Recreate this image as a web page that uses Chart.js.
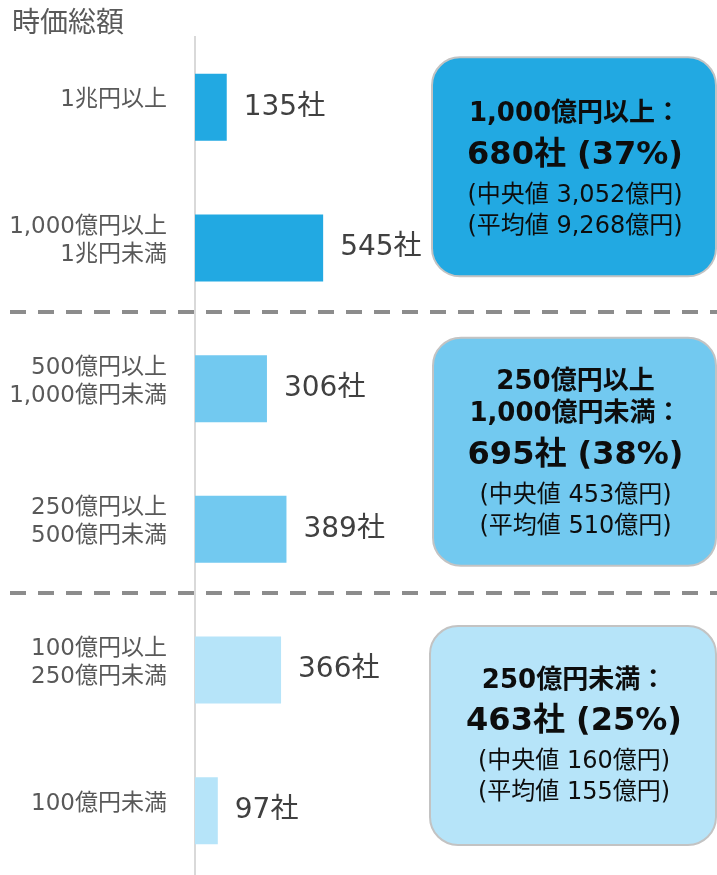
<!DOCTYPE html>
<html>
<head>
<meta charset="utf-8">
<script src="https://cdn.jsdelivr.net/npm/chart.js@4"></script>
<style>
  html, body { margin: 0; padding: 0; background: #fff; overflow: hidden; }
  canvas { display: block; }
</style>
</head>
<body>
<canvas id="myChart" width="717" height="881"></canvas>
<script>
const chartTitle = "時価総額";
const categories = [
  ["1兆円以上"],
  ["1,000億円以上", "1兆円未満"],
  ["500億円以上", "1,000億円未満"],
  ["250億円以上", "500億円未満"],
  ["100億円以上", "250億円未満"],
  ["100億円未満"]
];
const companyCounts = [135, 545, 306, 389, 366, 97];
const countUnit = "社";

// summary boxes, one per group of two bars
const groupHeadings = [
  ["1,000億円以上："],
  ["250億円以上", "1,000億円未満："],
  ["250億円未満："]
];
const groupTotals = [680, 695, 463];
const groupShares = [37, 38, 25];
const groupMedians = ["3,052", "453", "160"];
const groupMeans = ["9,268", "510", "155"];

const FONT = '"DejaVu Sans", "Noto Sans CJK JP", sans-serif';
const colors = ["#22a9e2", "#72c9f0", "#b6e4f9"];
const barColors = [colors[0], colors[0], colors[1], colors[1], colors[2], colors[2]];

// box placement (top relative to first bar of the group, height)
const boxLayout = [
  { left: 432, top: -50, height: 219, text: 57 },
  { left: 433, top: -51, height: 228, text: 45 },
  { left: 430, top: -44, height: 219, text: 55 }
];

const overlay = {
  id: "overlay",
  afterDatasetsDraw(chart) {
    const ctx = chart.ctx;
    const yScale = chart.scales.y;
    const meta = chart.getDatasetMeta(0);
    ctx.save();

    // value labels
    ctx.fillStyle = "#404040";
    ctx.font = "28px " + FONT;
    ctx.textAlign = "left";
    ctx.textBaseline = "middle";
    meta.data.forEach((bar, i) => {
      ctx.fillText(companyCounts[i] + countUnit, bar.x + 17, bar.y);
    });

    // dashed separators between groups
    ctx.strokeStyle = "#8c8c8c";
    ctx.lineWidth = 4;
    ctx.setLineDash([16, 12]);
    [1.5, 3.5].forEach(v => {
      const y = Math.round(yScale.getPixelForValue(v) - 6.5);
      ctx.beginPath();
      ctx.moveTo(10, y);
      ctx.lineTo(chart.width, y);
      ctx.stroke();
    });
    ctx.setLineDash([]);

    // summary boxes
    groupTotals.forEach((total, g) => {
      const lay = boxLayout[g];
      const top = meta.data[g * 2].y + lay.top;
      const left = lay.left;
      const w = 716 - left;
      ctx.beginPath();
      ctx.roundRect(left, top, w, lay.height, 28);
      ctx.fillStyle = colors[g];
      ctx.fill();
      ctx.lineWidth = 2;
      ctx.strokeStyle = "#c3c3c3";
      ctx.stroke();

      const cx = left + w / 2 + 1;
      ctx.fillStyle = "#0d0d0d";
      ctx.textAlign = "center";
      ctx.textBaseline = "middle";
      let y = top + lay.text;
      ctx.font = "bold 26px " + FONT;
      groupHeadings[g].forEach(line => {
        ctx.fillText(line, cx, y);
        y += 32;
      });
      y += 9;
      ctx.font = "bold 32px " + FONT;
      ctx.fillText(total + countUnit + " (" + groupShares[g] + "%)", cx, y);
      y += 40;
      ctx.font = "24px " + FONT;
      ctx.fillText("(中央値 " + groupMedians[g] + "億円)", cx, y);
      y += 31;
      ctx.fillText("(平均値 " + groupMeans[g] + "億円)", cx, y);
    });

    // title
    ctx.fillStyle = "#595959";
    ctx.font = "28px " + FONT;
    ctx.textAlign = "left";
    ctx.textBaseline = "middle";
    ctx.fillText(chartTitle, 12, 25);
    ctx.restore();
  }
};

var ctx = document.getElementById("myChart").getContext("2d");
var myChart = new Chart(ctx, {
  type: "bar",
  data: {
    labels: categories,
    datasets: [
      {
        data: companyCounts,
        backgroundColor: barColors,
        barPercentage: 0.476,
        categoryPercentage: 1
      }
    ]
  },
  options: {
    indexAxis: "y",
    responsive: false,
    animation: false,
    layout: { padding: { top: 37, right: 0, bottom: 0, left: 0 } },
    plugins: {
      legend: { display: false },
      tooltip: { enabled: false }
    },
    scales: {
      x: { display: false, min: 0, max: 2220 },
      y: {
        grid: { display: false, drawTicks: false },
        border: { display: true, color: "#d9d9d9", width: 2 },
        ticks: {
          color: "#595959",
          padding: 28,
          labelOffset: -7,
          font: { family: FONT, size: 23, lineHeight: 28 / 23 }
        },
        afterFit(scale) {
          scale.width = 195;
          scale.paddingTop = 0;
          scale.paddingBottom = 0;
        }
      }
    }
  },
  plugins: [overlay]
});
</script>
</body>
</html>
